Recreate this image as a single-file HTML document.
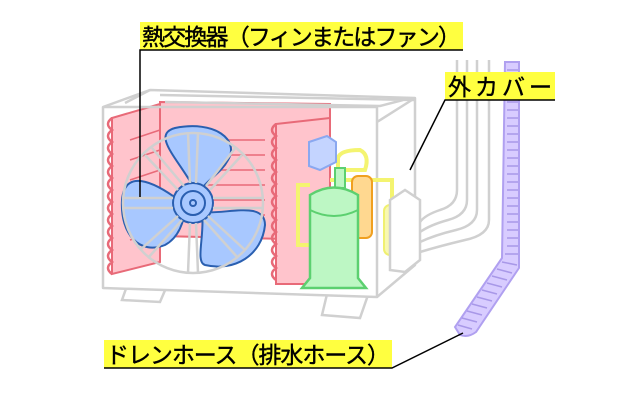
<!DOCTYPE html>
<html><head><meta charset="utf-8"><style>
html,body{margin:0;padding:0;background:#fff;width:640px;height:400px;overflow:hidden}
svg{display:block}
.lbl{font-family:"Liberation Sans","Noto Sans CJK JP",sans-serif;font-size:23px;fill:#000;stroke:#000;stroke-width:0.4}
</style></head><body>
<svg width="640" height="400" viewBox="0 0 640 400" xmlns="http://www.w3.org/2000/svg">
<!-- pipes -->
<g fill="none" stroke="#d0d0d0" stroke-width="2.5">
<path d="M457,60 V190 Q457,205 440,210 Q425,215 420,222"/>
<path d="M467,60 V200 Q467,215 448,220 Q430,225 420,232"/>
<path d="M477,60 V210 Q477,225 456,230 Q435,235 420,242"/>
<path d="M489,60 V220 Q489,235 465,240 Q440,246 420,252"/>
</g>
<!-- hose -->
<path d="M505,62 H519 V268 L476,332 Q468,338 460,335 L455,327 L502,258 Z" fill="#d8ccff" stroke="#b0a0f0" stroke-width="2"/>
<g stroke="#a898e8" stroke-width="1.5">
<path d="M507,70 H518 M507,78 H518 M507,86 H518 M507,94 H518 M507,102 H518 M507,110 H518 M507,118 H518 M507,126 H518 M507,134 H518 M507,142 H518 M507,150 H518 M507,158 H518 M507,166 H518 M507,174 H518 M507,182 H518 M507,190 H518 M507,198 H518 M507,206 H518 M507,214 H518 M507,222 H518 M507,230 H518 M507,238 H518 M507,246 H518 M505,254 H518 M502,262 L517,265 M497,269 L512,273 M492,276 L507,280 M487,283 L502,287 M482,290 L497,294 M477,297 L492,301 M472,304 L487,308 M467,311 L482,315 M462,318 L477,322 M458,325 L472,329"/>
</g>
<!-- unit feet -->
<g fill="#fff" stroke="#d0d0d0" stroke-width="2.5">
<path d="M128,283 L122,300 L160,302 L166,288 Z"/>
<path d="M328,290 L322,315 L360,318 L368,295 Z"/>
</g>
<!-- unit box -->
<g fill="#fff" stroke="#d0d0d0" stroke-width="2.5" stroke-linejoin="round">
<path d="M103,107 L150,90 L415,98 L415,265 L377,297 L103,288 Z"/>
</g>
<!-- red exchanger -->
<g fill="#ffc4cc" stroke="#e86a78" stroke-width="2">
<path d="M160,102 L330,104 L330,240 L160,236 Z"/>
<path d="M112,118 L160,104 L160,262 L112,274 Z"/>
<path d="M276,124 L330,118 L330,284 L276,284 Z"/>
</g>
<g fill="none" stroke="#e86a78" stroke-width="2.5">
<path d="M112,118 q-8,6 0,12 q-8,6 0,12 q-8,6 0,12 q-8,6 0,12 q-8,6 0,12 q-8,6 0,12 q-8,6 0,12 q-8,6 0,12 q-8,6 0,12 q-8,6 0,12 q-8,6 0,12 q-8,6 0,12 q-8,6 0,12"/>
<path d="M276,124 q-8,6 0,12 q-8,6 0,12 q-8,6 0,12 q-8,6 0,12 q-8,6 0,12 q-8,6 0,12 q-8,6 0,12 q-8,6 0,12 q-8,6 0,12 q-8,6 0,12 q-8,6 0,12 q-8,6 0,12 q-8,6 0,12"/>
</g>
<g stroke="#e86a78" stroke-width="1.5">
<path d="M200,140 H265 M200,155 H265 M200,170 H265 M200,185 H265 M200,200 H265 M200,215 H265 M130,140 L160,130 M130,160 L160,150 M130,180 L160,170 M130,200 L160,190 M130,220 L160,210 M130,240 L160,230"/>
</g>
<g fill="none" stroke="#d0d0d0" stroke-width="2.5">
<path d="M150,90 L125,103 M160,95 L415,100 M165,102 L380,106 L403,100"/>
<path d="M103,107 H377 V297 M377,122 L415,98"/>
</g>
<!-- fan -->
<g fill="#a8c8ff" stroke="#2a5fb0" stroke-width="2">
<path d="M198,195 C180,160 150,135 175,128 C215,120 240,140 228,160 C220,175 205,180 198,195 Z"/>
<path d="M185,205 C160,185 125,165 122,200 C120,235 140,255 165,245 C178,238 185,222 185,205 Z"/>
<path d="M202,212 C225,215 265,200 265,225 C262,255 235,272 205,265 C195,262 205,235 202,212 Z"/>
<circle cx="193" cy="203" r="20" fill="#a8c8ff"/>
<circle cx="193" cy="203" r="12" fill="#a8c8ff"/>
<circle cx="193" cy="203" r="3" fill="#a8c8ff"/>
</g>
<g fill="none" stroke="#d0d0d0" stroke-width="2.5">
<circle cx="193" cy="203" r="70"/>
<path d="M188,133 L190,183 M198,133 L196,183 M236,147 L206,186 M242,155 L210,190 M263,198 H213 M263,208 H213 M245,250 L208,216 M238,258 L204,220 M188,273 L190,223 M198,273 L196,223 M140,250 L178,216 M148,258 L182,220 M123,198 H173 M123,208 H173 M145,155 L178,190 M152,148 L184,186"/>
</g>
<!-- yellow pipes -->
<g fill="none" stroke="#f4f470" stroke-width="4">
<path d="M338,175 V158 Q340,150 360,150 Q370,155 365,170 H338"/>
<path d="M310,185 H298 V245 H312"/>
<path d="M330,180 H392 V210"/>
</g>
<rect x="384" y="205" width="22" height="50" rx="6" fill="#f8f8b0" stroke="#f0f070" stroke-width="2"/>
<!-- blue box -->
<path d="M309,142 L327,136 L336,142 L336,162 L320,170 L309,166 Z" fill="#c4d4ff" stroke="#8aa8f0" stroke-width="2"/>
<!-- orange tank -->
<rect x="352" y="176" width="20" height="62" rx="6" fill="#ffd890" stroke="#f0a020" stroke-width="2"/>
<!-- compressor -->
<rect x="335" y="168" width="10" height="20" fill="#bdf7c4" stroke="#5cd070" stroke-width="2"/>
<path d="M310,195 Q334,180 358,195 V278 L366,288 H302 L310,278 Z" fill="#bdf7c4" stroke="#5cd070" stroke-width="2.5"/>
<path d="M310,210 Q334,222 358,210" fill="none" stroke="#5cd070" stroke-width="2"/>
<!-- side box -->
<path d="M390,200 L405,190 L420,200 V260 L405,272 L390,270 Z" fill="#fff" stroke="#d0d0d0" stroke-width="2.5"/>
<!-- labels -->
<rect x="140" y="22" width="323" height="28" fill="#ffff40"/>
<text x="142" y="45" class="lbl" textLength="319">熱交換器（フィンまたはファン）</text>
<rect x="445" y="72" width="110" height="28" fill="#ffff40"/>
<text x="448" y="95" class="lbl" textLength="104">外カバー</text>
<rect x="104" y="340" width="288" height="28" fill="#ffff40"/>
<text x="106" y="363" class="lbl" textLength="284">ドレンホース（排水ホース）</text>
<g stroke="#000" stroke-width="1.5" fill="none">
<path d="M463,50 H140 V197"/>
<path d="M555,100 H445 L410,170"/>
<path d="M104,368 H392 L463,333"/>
</g>
</svg>
</body></html>
